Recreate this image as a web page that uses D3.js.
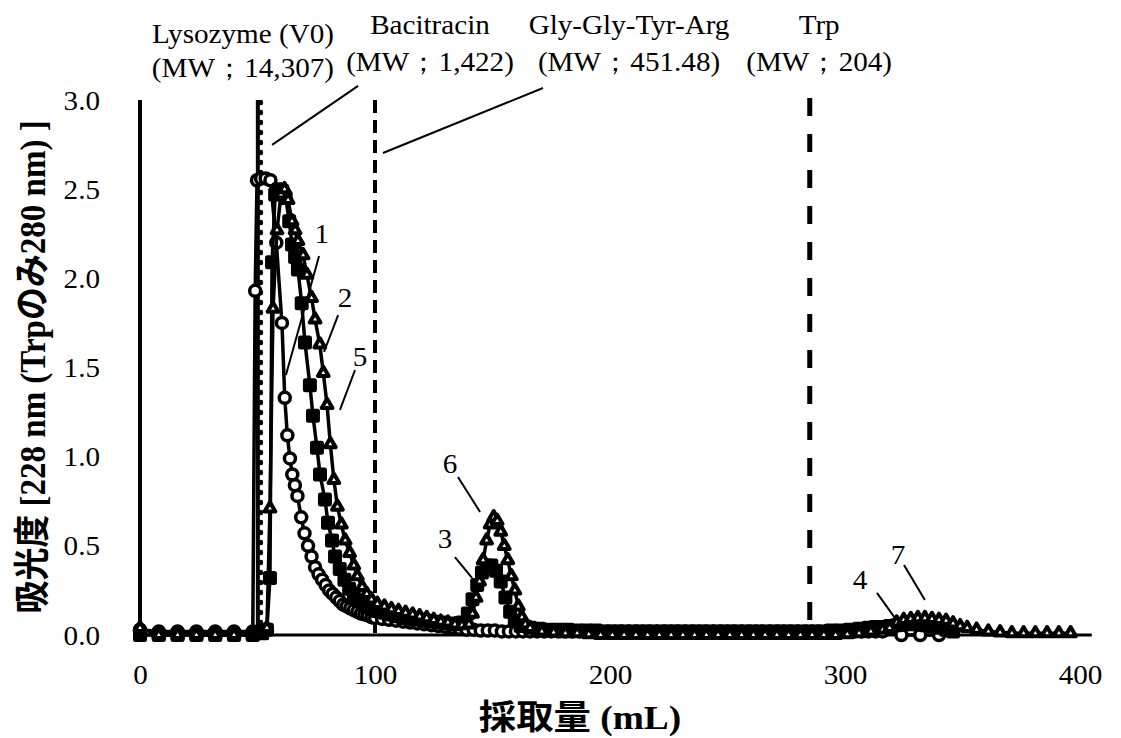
<!DOCTYPE html>
<html>
<head>
<meta charset="utf-8">
<script src="https://cdn.jsdelivr.net/npm/d3@7"></script>
<style>
  body { margin: 0; background: #fff; }
  svg { display: block; }
</style>
</head>
<body>
<svg id="chart" width="1121" height="738"></svg>
<script>
// ---- Chart data -------------------------------------------------------
// Elution profiles: [collected volume (mL), absorbance]
const runCircle = [
  [0,0.03],[8,0.02],[16,0.02],[24,0.02],[32,0.02],[40,0.02],[48,0.02],[49,1.93],[49.8,2.55],
  [51.5,2.56],[53.5,2.56],[55.5,2.55],[58,2.2],[60.4,1.75],[61.6,1.33],[62.7,1.12],[63.8,0.99],
  [64.8,0.90],[65.9,0.84],[67,0.78],[68.6,0.66],[70,0.57],[71.5,0.50],[73,0.44],[74.5,0.38],
  [76,0.34],[77.5,0.31],[79,0.28],[80.5,0.25],[82,0.23],[83.5,0.21],[85,0.19],[86.5,0.17],
  [88,0.16],[89.5,0.15],[91,0.14],[92.5,0.13],[94,0.12],[95.5,0.115],[97,0.11],[98.5,0.10],
  [100,0.095],[103,0.09],[106,0.085],[109,0.08],[112,0.075],[115,0.07],[118,0.065],[121,0.06],
  [124,0.055],[127,0.05],[130,0.045],[133,0.04],[136,0.035],[139,0.03],[142,0.03],[145,0.025],
  [148,0.025],[151,0.025],[154,0.02],[157,0.02],[160,0.02],[163,0.02],[166,0.02],[169,0.02],
  [172,0.02],[175,0.02],[178,0.02],[181,0.02],[184,0.02],[187,0.02],[190,0.02],[193,0.02],
  [196,0.02],[199,0.02],[202,0.02],[205,0.02],[208,0.02],[211,0.02],[214,0.02],[217,0.02],
  [220,0.02],[223,0.02],[226,0.02],[229,0.02],[232,0.02],[235,0.02],[238,0.02],[241,0.02],
  [244,0.02],[247,0.02],[250,0.02],[253,0.02],[256,0.02],[259,0.02],[262,0.02],[265,0.02],
  [268,0.02],[271,0.02],[274,0.02],[277,0.02],[280,0.02],[283,0.02],[286,0.02],[289,0.02],
  [292,0.02],[295,0.02],[298,0.02],[301,0.02],[304,0.02],[307,0.02],[310,0.02],[313,0.02],
  [316,0.02],[324,0],[332,0],[340,0]
];
const runSquare = [
  [0,0],[8,0],[16,0],[24,0],[32,0],[40,0],[48,0],[52,0.01],[54,0.03],[55.3,0.32],[56.2,2.09],
  [57.5,2.47],[59,2.5],[60.5,2.49],[62,2.45],[63.5,2.32],[64.7,2.19],[66,2.12],[67.2,2.05],
  [68.8,1.86],[70.2,1.64],[72.3,1.40],[73.6,1.23],[75.3,1.05],[76.6,0.90],[78.7,0.76],[80,0.63],
  [81.7,0.53],[83,0.44],[85,0.37],[87,0.31],[89,0.26],[91,0.22],[93,0.19],[95,0.17],[97,0.155],
  [99,0.145],[101,0.135],[104,0.125],[107,0.115],[110,0.105],[113,0.095],[116,0.09],[119,0.085],
  [122,0.08],[125,0.075],[128,0.07],[131,0.065],[134,0.06],[137,0.07],[139.5,0.12],[141.5,0.2],
  [143.5,0.28],[145.5,0.35],[147.5,0.39],[149.5,0.39],[151.5,0.36],[153.5,0.30],[155.5,0.21],
  [157.5,0.13],[159.5,0.08],[162,0.05],[166,0.04],[170,0.035],[174,0.03],[178,0.03],[182,0.03],
  [186,0.025],[190,0.025],[194,0.025],[198,0.02],[202,0.02],[206,0.02],[210,0.02],[214,0.02],
  [218,0.02],[222,0.02],[226,0.02],[230,0.02],[234,0.02],[238,0.02],[242,0.02],[246,0.02],
  [250,0.02],[254,0.02],[258,0.02],[262,0.02],[266,0.02],[270,0.02],[274,0.02],[278,0.02],
  [282,0.02],[286,0.02],[290,0.02],[294,0.025],[298,0.025],[302,0.03],[306,0.035],[310,0.04],
  [313,0.045],[316,0.045],[319,0.05],[322,0.055],[325,0.06],[328,0.06],[331,0.06],[334,0.055],
  [337,0.05],[340,0.04],[343,0.03],[346,0.02]
];
const runTriangle = [
  [0,0.04],[8,0],[16,0],[24,0],[32,0],[40,0],[48,0],[50,0.01],[52,0.02],[54,0.04],[55.3,0.71],
  [56.6,1.83],[58.3,2.27],[60,2.47],[61.5,2.5],[63,2.44],[64.7,2.32],[66,2.27],[67.2,2.21],
  [69.4,2.13],[71,2.02],[73,1.89],[74.5,1.77],[76.5,1.63],[78,1.47],[79.6,1.29],[81,1.07],
  [82.5,0.87],[84,0.72],[85.7,0.62],[87.3,0.53],[89.2,0.46],[91,0.39],[92.5,0.33],[94.5,0.27],
  [96.5,0.23],[98.5,0.2],[101,0.175],[104,0.16],[107,0.145],[110,0.135],[113,0.125],[116,0.115],
  [119,0.105],[122,0.095],[125,0.085],[128,0.075],[131,0.07],[134,0.06],[137,0.055],[140,0.06],
  [141.5,0.12],[143,0.21],[144.5,0.3],[146,0.42],[147.5,0.53],[149,0.62],[150.5,0.66],[152,0.64],
  [153.5,0.58],[155,0.5],[156.5,0.42],[158,0.33],[159.5,0.25],[161,0.16],[162.5,0.10],[164,0.06],
  [166,0.04],[171,0.02],[176,0.015],[181,0.01],[186,0.01],[191,0.005],[196,0],[201,0],[206,0],
  [211,0],[216,0],[221,0],[226,0],[231,0],[236,0],[241,0],[246,0],[251,0],[256,0],[261,0],
  [266,0],[271,0],[276,0],[281,0],[286,0],[291,0],[296,0],[301,0.005],[306,0.01],[311,0.02],
  [316,0.03],[319,0.04],[322,0.07],[325,0.085],[328,0.09],[331,0.095],[334,0.095],[337,0.09],
  [340,0.085],[343,0.08],[346,0.065],[349,0.05],[352,0.04],[356,0.03],[361,0.02],[366,0.015],
  [371,0.01],[376,0.01],[381,0.01],[386,0.01],[391,0.01],[396,0.01]
];

const xTicks = [0, 100, 200, 300, 400];
const yTicks = [0, 0.5, 1.0, 1.5, 2.0, 2.5, 3.0];

// Elution volumes of the standards (mL)
const standardVolume = [51, 100, 285];
const compoundNames = ["Lysozyme (V0)", "Bacitracin", "Gly-Gly-Tyr-Arg", "Trp"];
const compoundMW = ["(MW；14,307)", "(MW；1,422)", "(MW；451.48)", "(MW；204)"];

// Peak numbers
const peakNumbers = ["1", "2", "5", "6", "3", "4", "7"];

const xTitle = "採取量 (mL)";
const yTitle = "吸光度 [228 nm (Trpのみ280 nm) ]";

// ---- Layout -------------------------------------------------------------
const svg = d3.select("#chart");
const x = d3.scaleLinear().domain([0, 400]).range([140, 1080]);
const y = d3.scaleLinear().domain([0, 3]).range([635, 100]);
const SERIF = "'Liberation Serif','Times New Roman',serif";
const STRETCH = "scale(1.1,1)";

// label anchors in data units (mL, absorbance)
const compoundLabelPos = [
  { cx: 43.8, y1: 3.32, y2: 3.13 },
  { cx: 123.4, y1: 3.37, y2: 3.165 },
  { cx: 208.1, y1: 3.37, y2: 3.165 },
  { cx: 289.0, y1: 3.37, y2: 3.165 }
];
const compoundLeaders = [
  [[92.8, 3.079], [56.2, 2.748]],
  [[171.5, 3.067], [103.4, 2.703]]
];
const peakLabelPos = [
  [77.4, 2.20], [87.2, 1.84], [93.6, 1.51], [131.9, 0.91], [129.8, 0.49], [306.4, 0.26], [322.6, 0.40]
];
const peakLeaders = [
  [[76.2, 2.125], [62.1, 1.458]],
  [[84.3, 1.794], [78.3, 1.587]],
  [[91.5, 1.486], [85.1, 1.262]],
  [[135.3, 0.886], [144.7, 0.690]],
  [[134.0, 0.437], [141.3, 0.320]],
  [[313.6, 0.236], [321.3, 0.095]],
  [[325.1, 0.393], [334.0, 0.196]]
];

function stretchedText(g, px, py, str, opts = {}) {
  return g.append("text")
    .attr("transform", `translate(${px},${py}) ${STRETCH}`)
    .attr("text-anchor", opts.anchor || "middle")
    .attr("font-family", opts.family || SERIF)
    .attr("font-size", opts.size || 26.5)
    .attr("font-weight", opts.weight || "normal")
    .attr("fill", "#000")
    .text(str);
}

// ---- Axes -------------------------------------------------------------
const xAxis = svg.append("g").attr("transform", `translate(0,${y(0)})`)
  .call(d3.axisBottom(x).tickValues(xTicks).tickSize(0).tickFormat(d3.format("d")));
xAxis.select(".domain").remove();
xAxis.selectAll("text")
  .attr("y", 0).attr("dy", null)
  .attr("transform", `translate(0,49) ${STRETCH}`)
  .attr("font-family", SERIF).attr("font-size", 26.5).attr("fill", "#000");

const yAxis = svg.append("g").attr("transform", `translate(${x(0)},0)`)
  .call(d3.axisLeft(y).tickValues(yTicks).tickSize(0).tickFormat(d3.format(".1f")));
yAxis.select(".domain").remove();
yAxis.selectAll("text")
  .attr("x", 0).attr("dy", "0.34em")
  .attr("transform", `translate(-40,0) ${STRETCH}`)
  .attr("font-family", SERIF).attr("font-size", 26.5).attr("fill", "#000");

// axis lines
svg.append("line")
  .attr("x1", x(0)).attr("x2", x(405)).attr("y1", y(0)).attr("y2", y(0))
  .attr("stroke", "#000").attr("stroke-width", 3);
svg.append("line")
  .attr("x1", x(0)).attr("x2", x(0)).attr("y1", y(3)).attr("y2", y(0))
  .attr("stroke", "#000").attr("stroke-width", 4);

// ---- Standard elution markers ----------------------------------------
const refG = svg.append("g");
// void volume: solid core with a round-dot edge
refG.append("line")
  .attr("x1", x(standardVolume[0]) - 2).attr("x2", x(standardVolume[0]) - 2)
  .attr("y1", y(3)).attr("y2", y(0))
  .attr("stroke", "#000").attr("stroke-width", 4);
refG.append("line")
  .attr("x1", x(standardVolume[0]) + 1).attr("x2", x(standardVolume[0]) + 1)
  .attr("y1", y(3) + 2).attr("y2", y(0))
  .attr("stroke", "#000").attr("stroke-width", 4.5)
  .attr("stroke-linecap", "round").attr("stroke-dasharray", "1,9");
refG.append("line")
  .attr("x1", x(standardVolume[1])).attr("x2", x(standardVolume[1]))
  .attr("y1", y(3)).attr("y2", y(0))
  .attr("stroke", "#000").attr("stroke-width", 4).attr("stroke-dasharray", "13,7");
refG.append("line")
  .attr("x1", x(standardVolume[2])).attr("x2", x(standardVolume[2]))
  .attr("y1", y(3) - 2).attr("y2", y(0))
  .attr("stroke", "#000").attr("stroke-width", 5).attr("stroke-dasharray", "18,18");

// ---- Series -------------------------------------------------------------
const line = d3.line().x(d => x(d[0])).y(d => y(d[1]));
const seriesG = svg.append("g");

function drawLine(data) {
  seriesG.append("path").datum(data)
    .attr("d", line).attr("fill", "none")
    .attr("stroke", "#000").attr("stroke-width", 3.5).attr("stroke-linejoin", "round");
}

drawLine(runCircle);
seriesG.append("g").selectAll("circle").data(runCircle).join("circle")
  .attr("cx", d => x(d[0])).attr("cy", d => y(d[1])).attr("r", 5.5)
  .attr("fill", "#fff").attr("stroke", "#000").attr("stroke-width", 3.5);

drawLine(runSquare);
seriesG.append("g").selectAll("rect").data(runSquare).join("rect")
  .attr("x", d => x(d[0]) - 6).attr("y", d => y(d[1]) - 6)
  .attr("width", 12).attr("height", 12).attr("rx", 1.5)
  .attr("fill", "#000").attr("stroke", "#000").attr("stroke-width", 2);

drawLine(runTriangle);
const tri = d3.symbol().type(d3.symbolTriangle).size(50);
seriesG.append("g").selectAll("path").data(runTriangle).join("path")
  .attr("d", tri)
  .attr("transform", d => `translate(${x(d[0])},${y(d[1])})`)
  .attr("fill", "#fff").attr("stroke", "#000").attr("stroke-width", 4)
  .attr("stroke-linejoin", "round");

// ---- Annotations ------------------------------------------------------
const annG = svg.append("g");
compoundNames.forEach((name, i) => {
  const p = compoundLabelPos[i];
  stretchedText(annG, x(p.cx), y(p.y1), name);
  stretchedText(annG, x(p.cx), y(p.y2), compoundMW[i]);
});
compoundLeaders.concat(peakLeaders).forEach(seg => {
  annG.append("line")
    .attr("x1", x(seg[0][0])).attr("y1", y(seg[0][1]))
    .attr("x2", x(seg[1][0])).attr("y2", y(seg[1][1]))
    .attr("stroke", "#000").attr("stroke-width", 2);
});
peakNumbers.forEach((n, i) => {
  stretchedText(annG, x(peakLabelPos[i][0]), y(peakLabelPos[i][1]), n);
});

// ---- Axis titles -------------------------------------------------------
const TITLE_FONT = "'Liberation Serif','Noto Sans CJK JP',serif";
stretchedText(svg, 580, 729, xTitle, { size: 34, weight: "bold", family: TITLE_FONT });
svg.append("text")
  .attr("transform", `translate(45,367) ${STRETCH} rotate(-90)`)
  .attr("text-anchor", "middle")
  .attr("font-family", TITLE_FONT)
  .attr("font-size", 33).attr("font-weight", "bold").attr("fill", "#000")
  .text(yTitle);
</script>
</body>
</html>
